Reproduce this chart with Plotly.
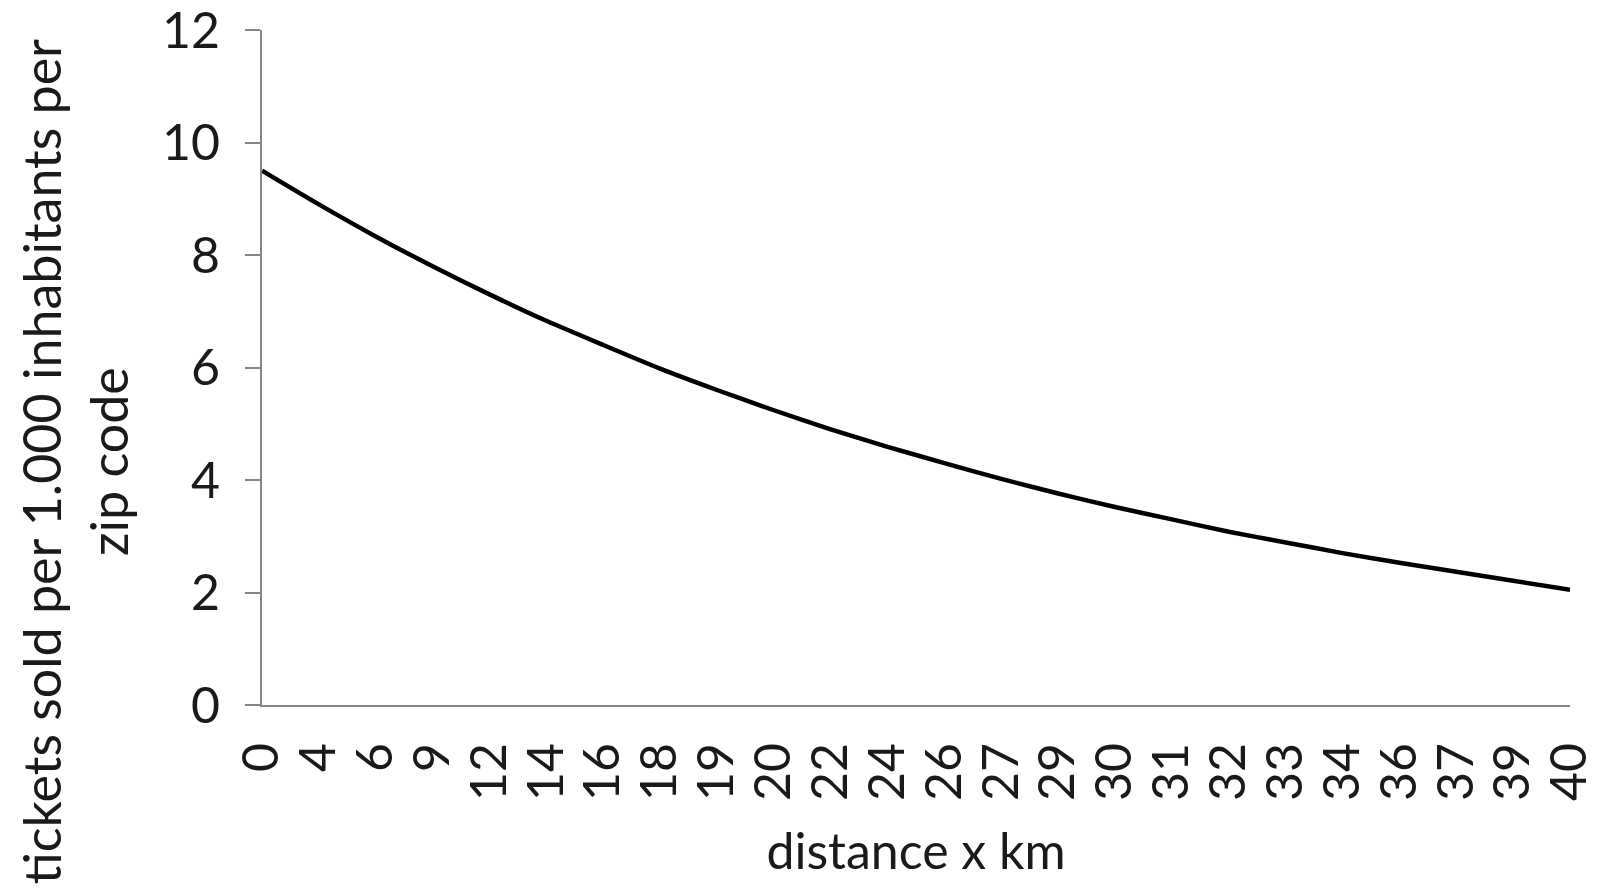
import plotly.graph_objects as go

distance_labels = ["0", "4", "6", "9", "12", "14", "16", "18", "19", "20", "22", "24",
                   "26", "27", "29", "30", "31", "32", "33", "34", "36", "37", "39", "40"]
tickets_per_1000 = [9.50, 8.90, 8.33, 7.80, 7.30, 6.83, 6.40, 5.98, 5.60, 5.24, 4.90, 4.59,
                    4.30, 4.02, 3.76, 3.52, 3.30, 3.08, 2.89, 2.70, 2.53, 2.37, 2.21, 2.05]
y_min, y_max, y_step = 0, 12, 2

FONT = "Lato"
FS = 50
AXIS_GRAY = "#868686"
TEXT = "#1a1a1a"

fig = go.Figure()
fig.add_trace(go.Scatter(
    x=distance_labels,
    y=tickets_per_1000,
    mode="lines",
    line=dict(color="black", width=4.5, shape="spline", smoothing=0.6),
    showlegend=False,
    hoverinfo="x+y",
))

fig.update_layout(
    width=1590, height=886,
    margin=dict(l=254, r=28, t=22, b=189, autoexpand=False),
    paper_bgcolor="white",
    plot_bgcolor="white",
    font=dict(family=FONT, size=FS, color=TEXT),
    xaxis=dict(
        type="category",
        categoryorder="array",
        categoryarray=distance_labels,
        range=[0, len(distance_labels) - 1],
        autorange=False,
        tickmode="linear",
        tick0=0,
        dtick=1,
        showgrid=False,
        zeroline=False,
        showline=True,
        linecolor=AXIS_GRAY,
        linewidth=2,
        ticks="",
        tickangle=-90,
        tickfont=dict(family=FONT, size=FS, color=TEXT),
        ticklabelstandoff=16,
        ticklabeloverflow="allow",
        automargin=False,
        title=dict(text="distance x km", font=dict(family=FONT, size=FS, color=TEXT),
                   standoff=34),
    ),
    yaxis=dict(
        range=[y_min, y_max],
        autorange=False,
        tickmode="linear",
        tick0=y_min,
        dtick=y_step,
        showgrid=False,
        zeroline=False,
        showline=True,
        linecolor=AXIS_GRAY,
        linewidth=2,
        ticks="outside",
        ticklen=15,
        tickwidth=2,
        tickcolor=AXIS_GRAY,
        tickfont=dict(family=FONT, size=FS, color=TEXT),
        ticklabelstandoff=15,
        ticklabeloverflow="allow",
        automargin=False,
    ),
    annotations=[dict(
        text="tickets sold per 1.000 inhabitants per<br>zip code",
        textangle=-90,
        xref="paper", yref="paper",
        x=-0.143, y=0.361,
        xanchor="center", yanchor="middle",
        showarrow=False,
        font=dict(family=FONT, size=52, color=TEXT),
        align="center",
    )],
)

fig.write_html("out.html")
